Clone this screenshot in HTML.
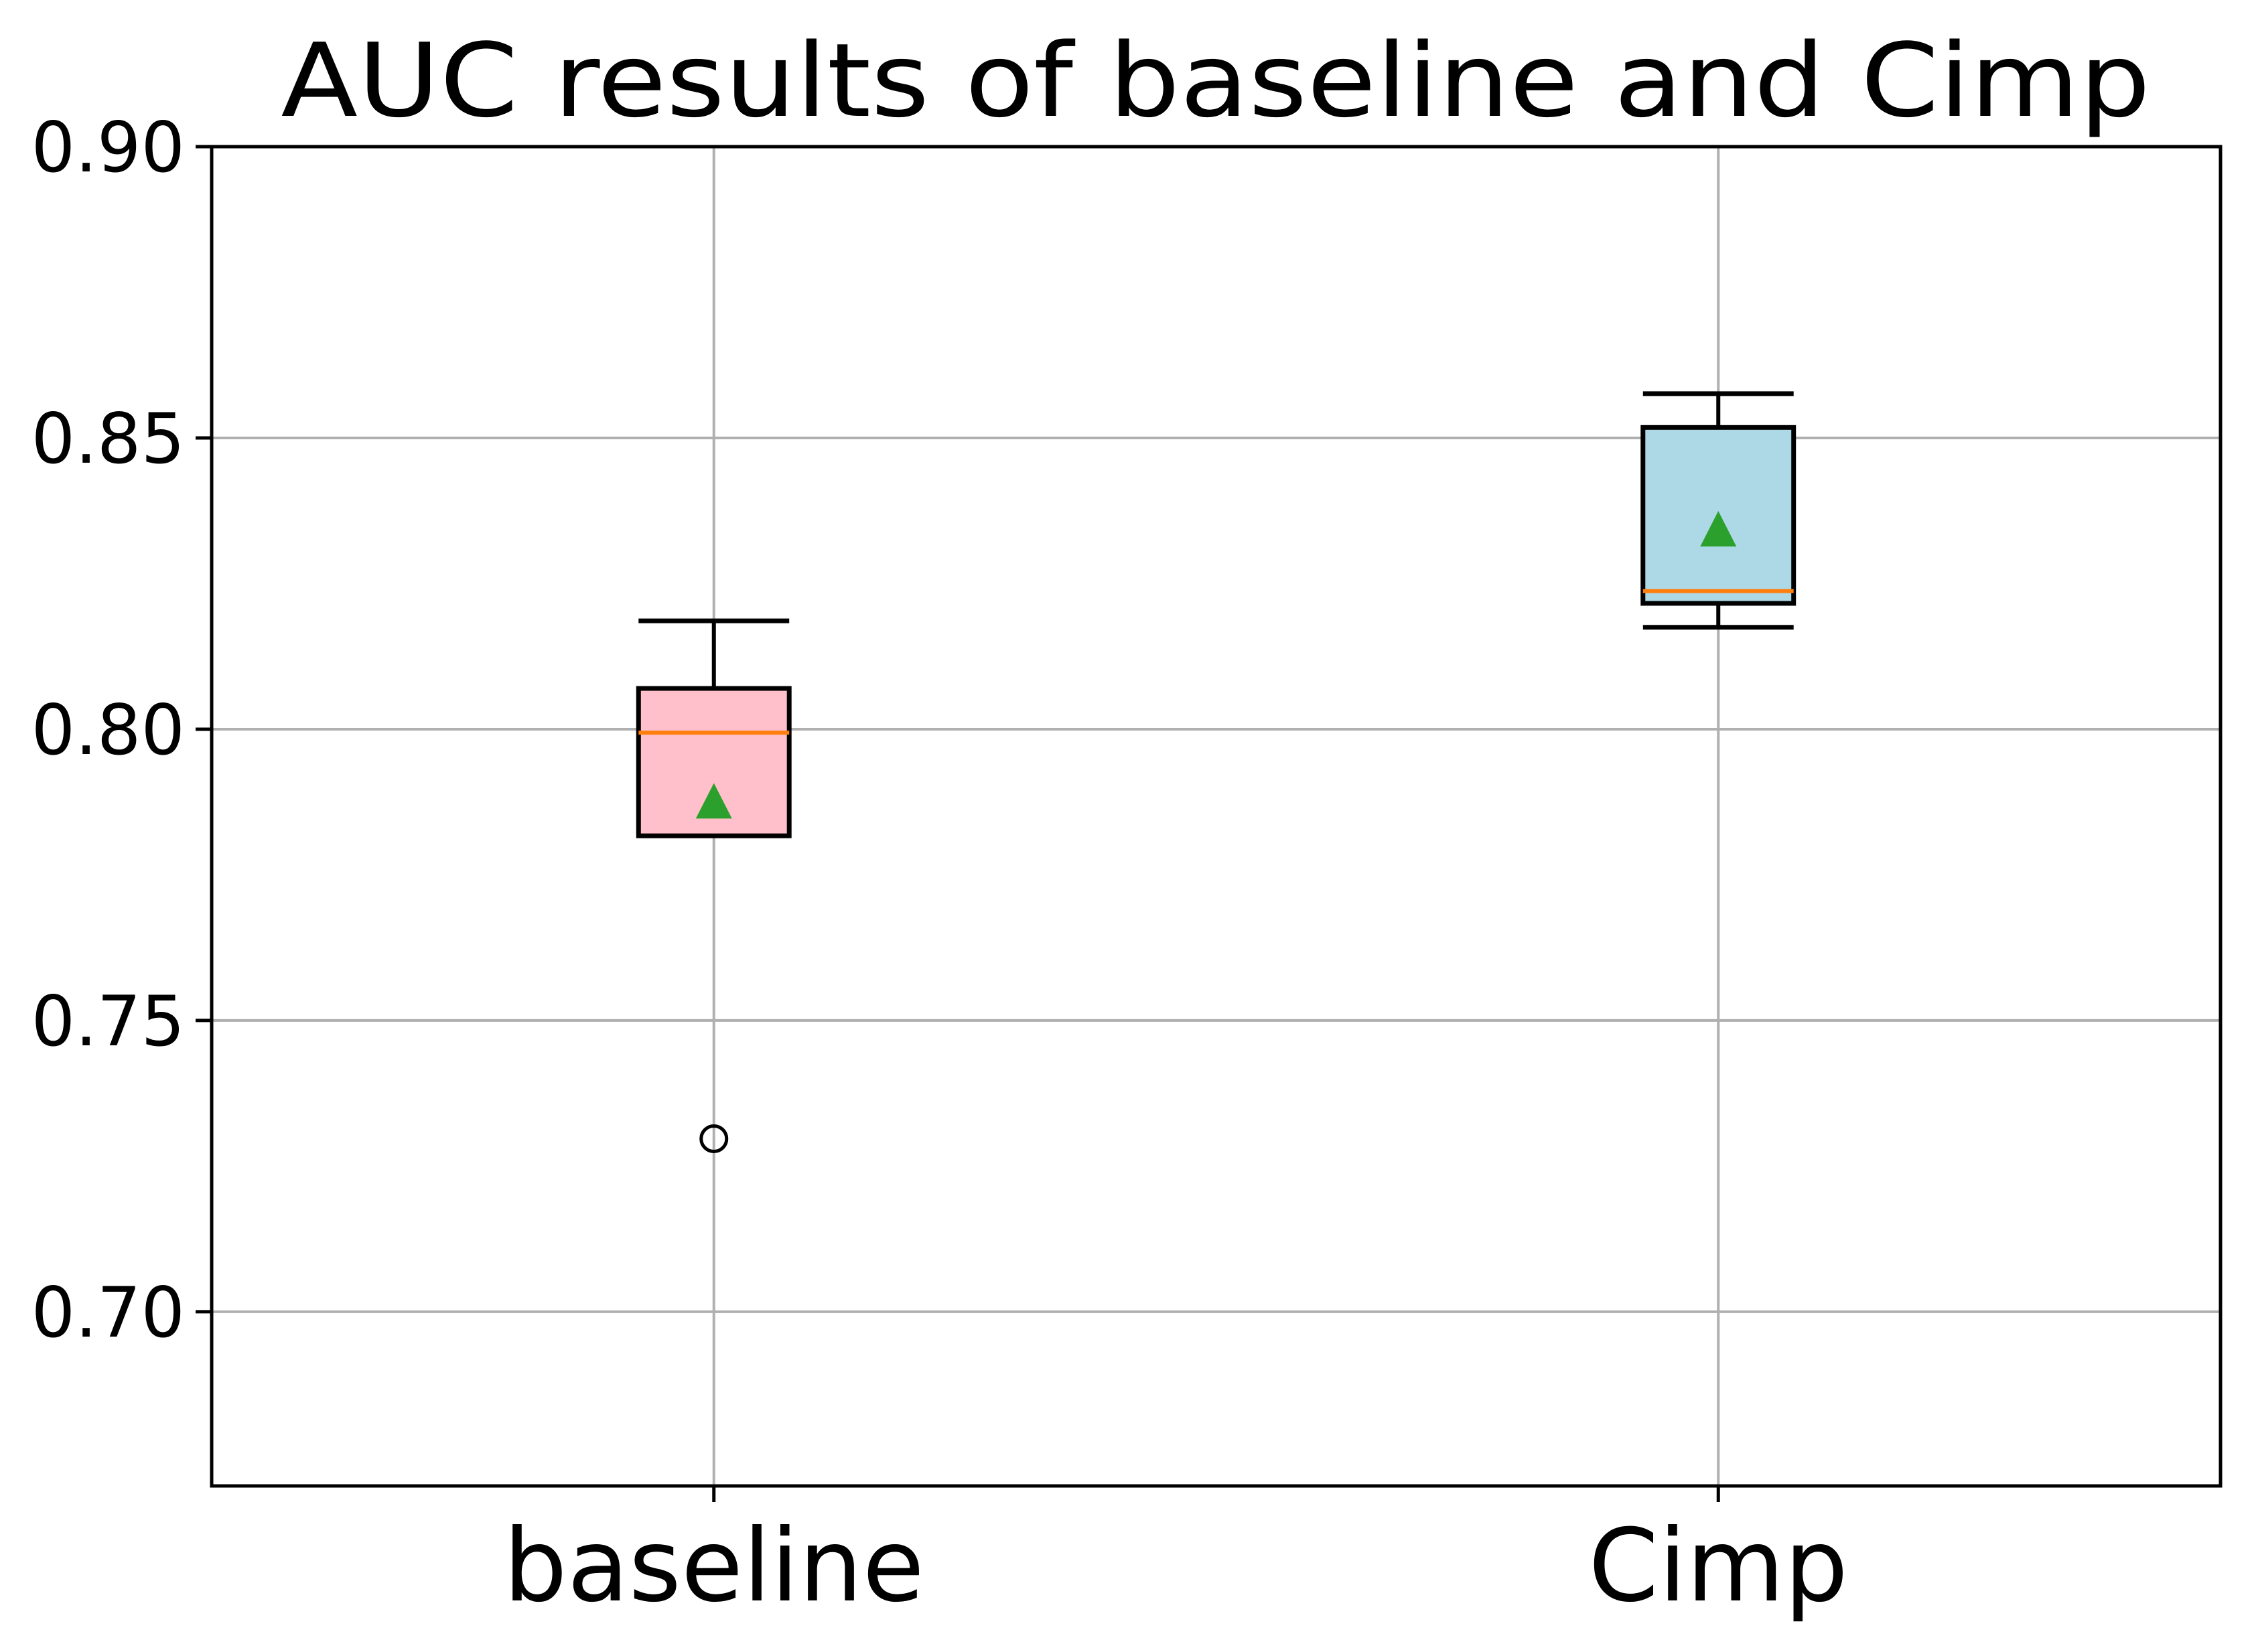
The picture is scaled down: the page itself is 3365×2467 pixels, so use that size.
<!DOCTYPE html>
<html><head><meta charset="utf-8"><style>
html,body{margin:0;padding:0;background:#fff;}
svg{display:block;font-family:"DejaVu Sans","Liberation Sans",sans-serif;}
</style></head><body>
<svg id="chart" width="3365" height="2467" viewBox="0 0 3365 2467" xmlns="http://www.w3.org/2000/svg">
<rect width="3365" height="2467" fill="#fff"/>
<text x="1815" y="173" text-anchor="middle" font-size="152" textLength="2791" lengthAdjust="spacingAndGlyphs">AUC results of baseline and Cimp</text>
<g id="grid"></g>
<g id="marks"></g>
<rect x="316" y="219" width="2999" height="2000" fill="none" stroke="#000" stroke-width="5"/>
<g id="axes"></g>
</svg>
<script>
const categories = ["baseline", "Cimp"];
const whiskerLow = [0.7817, 0.8175];
const q1 = [0.7817, 0.8216];
const median = [0.7994, 0.8237];
const q3 = [0.8070, 0.8518];
const whiskerHigh = [0.8186, 0.8576];
const means = [0.7873, 0.8340];
const outliers = [[0.7297], []];
const boxColors = ["pink", "lightblue"];
const yTicks = [0.70, 0.75, 0.80, 0.85, 0.90];
const yTickLabels = ["0.70", "0.75", "0.80", "0.85", "0.90"];

const L = 316, R = 3315, T = 219, B = 2219;
const yMin = 0.6701, yMax = 0.90;
const xs = v => L + (v - 0.5) / 2 * (R - L);
const ys = v => B - (v - yMin) / (yMax - yMin) * (B - T);
const NS = "http://www.w3.org/2000/svg";
function mk(tag, attrs, parent) {
  const e = document.createElementNS(NS, tag);
  for (const k in attrs) e.setAttribute(k, attrs[k]);
  parent.appendChild(e);
  return e;
}
const grid = document.getElementById('grid');
const marks = document.getElementById('marks');
const axes = document.getElementById('axes');

yTicks.forEach((t, i) => {
  const y = ys(t);
  const g = mk('line', {x1: L, x2: R, y1: y, y2: y, stroke: '#b0b0b0', 'stroke-width': 4}, grid);
  
  
  const tk = mk('line', {x1: L - 24, x2: L, y1: y, y2: y, stroke: '#000', 'stroke-width': 5}, axes);
  
  
  const lb = mk('text', {x: L - 40, y: y + 37, 'text-anchor': 'end', 'font-size': 103}, axes);
  lb.textContent = yTickLabels[i];
  
  
});

const boxW = 0.15, capW = 0.075;
categories.forEach((c, i) => {
  const cx = xs(i + 1);
  const gl = mk('line', {x1: cx, x2: cx, y1: T, y2: B, stroke: '#b0b0b0', 'stroke-width': 4}, grid);
  
  
  const tk = mk('line', {x1: cx, x2: cx, y1: B, y2: B + 24, stroke: '#000', 'stroke-width': 5}, axes);
  
  
  const lb = mk('text', {x: cx, y: 2390, 'text-anchor': 'middle', 'font-size': 150}, axes);
  lb.textContent = c;
  
  

  const g = mk('g', {}, marks);
  
  
  const half = (xs(1 + boxW / 2) - xs(1));
  const capHalf = (xs(1 + capW) - xs(1));
  const w1 = mk('line', {x1: cx, x2: cx, y1: ys(whiskerLow[i]), y2: ys(q1[i]), stroke: '#000', 'stroke-width': 6}, g);
  
  
  const w2 = mk('line', {x1: cx, x2: cx, y1: ys(q3[i]), y2: ys(whiskerHigh[i]), stroke: '#000', 'stroke-width': 6}, g);
  
  
  const c1 = mk('line', {x1: cx - capHalf, x2: cx + capHalf, y1: ys(whiskerLow[i]), y2: ys(whiskerLow[i]), stroke: '#000', 'stroke-width': 7}, g);
  
  
  const c2 = mk('line', {x1: cx - capHalf, x2: cx + capHalf, y1: ys(whiskerHigh[i]), y2: ys(whiskerHigh[i]), stroke: '#000', 'stroke-width': 7}, g);
  
  
  const bx = mk('rect', {x: cx - half, y: ys(q3[i]), width: 2 * half, height: ys(q1[i]) - ys(q3[i]), fill: boxColors[i], stroke: '#000', 'stroke-width': 7}, g);
  
  
  const md = mk('line', {x1: cx - half, x2: cx + half, y1: ys(median[i]), y2: ys(median[i]), stroke: '#ff7f0e', 'stroke-width': 6}, g);
  
  
  const my = ys(means[i]);
  const tri = mk('polygon', {points: `${cx},${my - 30} ${cx - 27},${my + 23} ${cx + 27},${my + 23}`, fill: '#2ca02c'}, g);
  
  
  outliers[i].forEach(v => {
    const o = mk('circle', {cx: cx, cy: ys(v), r: 19, fill: 'none', stroke: '#000', 'stroke-width': 5}, g);
    
    
  });
});
</script>
</body></html>
